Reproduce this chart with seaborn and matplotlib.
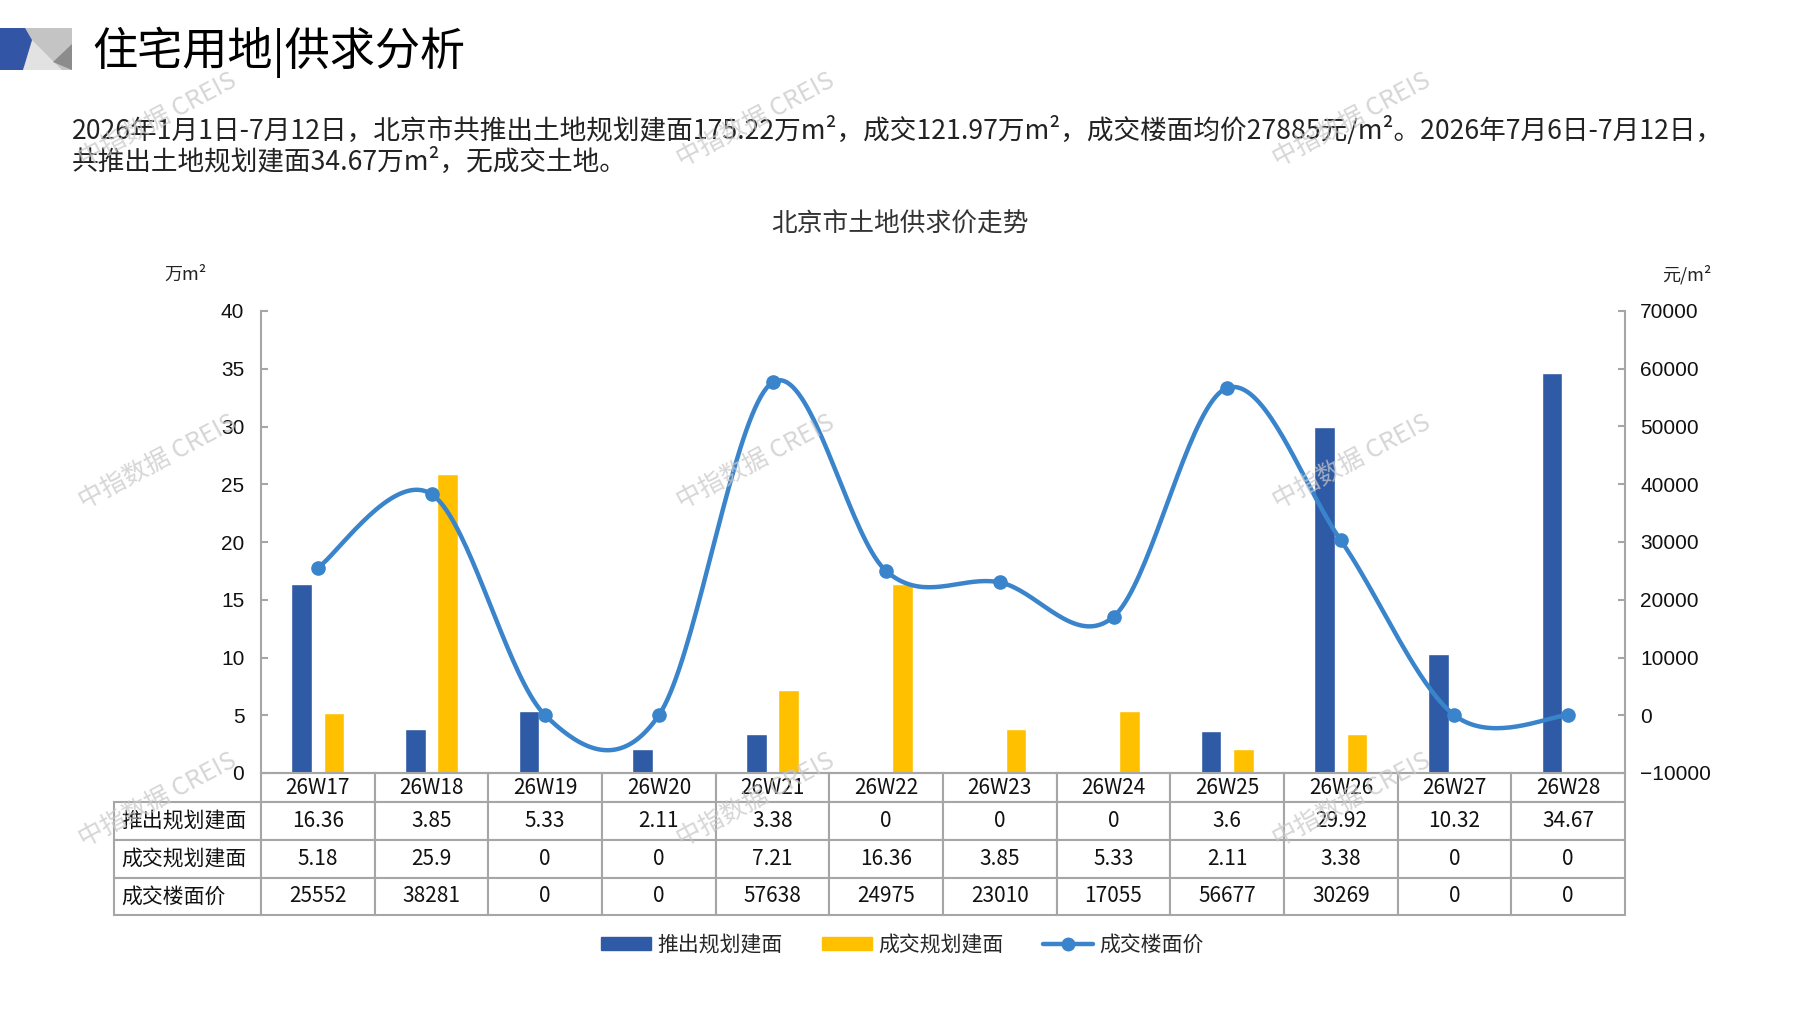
import numpy as np
import pandas as pd
import seaborn as sns
import matplotlib.pyplot as plt
from matplotlib.patches import Polygon, Rectangle
from matplotlib.table import Table

weeks = ['26W17', '26W18', '26W19', '26W20', '26W21', '26W22',
         '26W23', '26W24', '26W25', '26W26', '26W27', '26W28']
supply = [16.36, 3.85, 5.33, 2.11, 3.38, 0, 0, 0, 3.6, 29.92, 10.32, 34.67]
deal = [5.18, 25.9, 0, 0, 7.21, 16.36, 3.85, 5.33, 2.11, 3.38, 0, 0]
price = [25552, 38281, 0, 0, 57638, 24975, 23010, 17055, 56677, 30269, 0, 0]
supply_txt = ['16.36', '3.85', '5.33', '2.11', '3.38', '0', '0', '0', '3.6', '29.92', '10.32', '34.67']
deal_txt = ['5.18', '25.9', '0', '0', '7.21', '16.36', '3.85', '5.33', '2.11', '3.38', '0', '0']
price_txt = [str(v) for v in price]
series = ['推出规划建面', '成交规划建面', '成交楼面价']

BLUE = '#2E5AA6'
YELLOW = '#FFC000'
LINE = '#3A84CC'
GREY = '#A6A6A6'

sns.set_style('white')
plt.rcParams['font.family'] = ['Noto Sans CJK SC', 'DejaVu Sans']

W, H = 1797, 1010
fig = plt.figure(figsize=(W / 100, H / 100), dpi=100)


def fx(px):
    return px / W


def fy(py):
    return 1 - py / H


# header logo
logo = [
    (Rectangle((fx(24), fy(70)), fx(48), 42 / H), '#C4C4C4'),
    (Polygon([(fx(32), fy(40)), (fx(23), fy(70)), (fx(62), fy(70))], closed=True), '#E2E2E2'),
    (Polygon([(fx(72), fy(44)), (fx(72), fy(70)), (fx(53), fy(62))], closed=True), '#8C8C8C'),
    (Polygon([(0, fy(28)), (fx(25), fy(28)), (fx(32), fy(40)), (fx(23), fy(70)), (0, fy(70))], closed=True), '#3355A5'),
]
for p, c in logo:
    p.set_facecolor(c)
    p.set_edgecolor('none')
    p.set_transform(fig.transFigure)
    fig.patches.append(p)

fig.text(fx(92), fy(52), '住宅用地|供求分析', fontsize=32.5, va='center', ha='left', color='black')
fig.text(fx(72), fy(130),
         '2026年1月1日-7月12日，北京市共推出土地规划建面175.22万m²，成交121.97万m²，'
         '成交楼面均价27885元/m²。2026年7月6日-7月12日，',
         fontsize=19.2, va='center', ha='left', color='#222222')
fig.text(fx(72), fy(162), '共推出土地规划建面34.67万m²，无成交土地。',
         fontsize=19.2, va='center', ha='left', color='#222222')
fig.text(fx(900), fy(225), '北京市土地供求价走势', fontsize=18.5, ha='center', va='center', color='#333333')
fig.text(fx(164), fy(275), '万m²', fontsize=13, ha='left', va='center', color='#222222')
fig.text(fx(1662), fy(275), '元/m²', fontsize=13, ha='left', va='center', color='#222222')

ax = fig.add_axes([fx(261), fy(773), 1364 / W, 462 / H])

df = pd.DataFrame({
    'week': weeks * 2,
    'series': [series[0]] * len(weeks) + [series[1]] * len(weeks),
    'value': supply + deal,
})
sns.barplot(data=df, x='week', y='value', hue='series', palette=[BLUE, YELLOW],
            width=0.57, gap=0.37, saturation=1, legend=False, ax=ax)
ax.set_xlim(-0.5, len(weeks) - 0.5)
ax.set_ylim(0, 40)
ax.set_yticks(np.arange(0, 41, 5))
ax.set_xlabel('')
ax.set_ylabel('')
ax.set_xticks([])
ax.tick_params(axis='y', direction='in', length=5, width=1.5, color=GREY,
               labelsize=15, pad=12, labelcolor='#111111')
for lab in ax.get_yticklabels():
    lab.set_family(['Liberation Sans', 'DejaVu Sans'])
for s in ['top', 'right']:
    ax.spines[s].set_visible(False)
for s in ['left', 'bottom']:
    ax.spines[s].set_color(GREY)
    ax.spines[s].set_linewidth(1.5)

# smoothed price line (Excel-like bezier smoothing through the points)
xs_pts = np.arange(len(price), dtype=float)
ys_pts = np.array(price, dtype=float)
cx, cy = [], []
t = np.linspace(0, 1, 40)
for i in range(len(price) - 1):
    i0 = max(i - 1, 0)
    i3 = min(i + 2, len(price) - 1)
    p0x, p1x, p2x, p3x = xs_pts[i], xs_pts[i] + (xs_pts[i + 1] - xs_pts[i0]) / 6, \
        xs_pts[i + 1] - (xs_pts[i3] - xs_pts[i]) / 6, xs_pts[i + 1]
    p0y, p1y, p2y, p3y = ys_pts[i], ys_pts[i] + (ys_pts[i + 1] - ys_pts[i0]) / 6, \
        ys_pts[i + 1] - (ys_pts[i3] - ys_pts[i]) / 6, ys_pts[i + 1]
    b = [(1 - t) ** 3, 3 * (1 - t) ** 2 * t, 3 * (1 - t) * t ** 2, t ** 3]
    cx.extend(b[0] * p0x + b[1] * p1x + b[2] * p2x + b[3] * p3x)
    cy.extend(b[0] * p0y + b[1] * p1y + b[2] * p2y + b[3] * p3y)

ax2 = ax.twinx()
sns.lineplot(x=cx, y=cy, sort=False, estimator=None, color=LINE, linewidth=3.2,
             ax=ax2, legend=False)
ax2.plot(xs_pts, ys_pts, 'o', color=LINE, markersize=9.5)
ax2.set_ylim(-10000, 70000)
ax2.set_yticks(np.arange(-10000, 70001, 10000))
ax2.set_xlim(-0.5, len(weeks) - 0.5)
ax2.tick_params(axis='y', direction='in', length=5, width=1.5, color=GREY,
                labelsize=15, pad=11, labelcolor='#111111')
for lab in ax2.get_yticklabels():
    lab.set_family(['Liberation Sans', 'DejaVu Sans'])
for s in ['top', 'left', 'bottom']:
    ax2.spines[s].set_visible(False)
ax2.spines['right'].set_color(GREY)
ax2.spines['right'].set_linewidth(1.5)

# data table under the chart
tab = Table(ax, bbox=[-147 / 1364, -141.5 / 462, 1511 / 1364, 141.5 / 462])
label_w, col_w = 147, 1364 / len(weeks)
rows = [(series[0], supply_txt), (series[1], deal_txt), (series[2], price_txt)]
heights = [29, 38, 38, 36.5]
c0 = tab.add_cell(0, 0, label_w, heights[0], text='')
c0.visible_edges = ''
for j, w in enumerate(weeks):
    tab.add_cell(0, j + 1, col_w, heights[0], text=w, loc='center')
for i, (name, vals) in enumerate(rows):
    c = tab.add_cell(i + 1, 0, label_w, heights[i + 1], text=name, loc='left')
    c.PAD = 0.05
    for j, v in enumerate(vals):
        tab.add_cell(i + 1, j + 1, col_w, heights[i + 1], text=v, loc='center')
tab.auto_set_font_size(False)
tab.set_fontsize(15)
for cell in tab.get_celld().values():
    cell.set_edgecolor(GREY)
    cell.set_linewidth(1.5)
    cell.get_text().set_color('#111111')
tab.set_clip_on(False)
ax.add_table(tab)

# legend
handles = [Rectangle((0, 0), 1, 1, color=BLUE), Rectangle((0, 0), 1, 1, color=YELLOW),
           plt.Line2D([], [], color=LINE, linewidth=3.2, marker='o', markersize=9)]
fig.legend(handles, series, loc='center', bbox_to_anchor=(0.502, fy(945)), ncol=3,
           frameon=False, fontsize=15, handlelength=2.4, handletextpad=0.3,
           columnspacing=1.9, handleheight=0.6)

# watermarks
for wx in [158, 756, 1352]:
    for wy in [120, 462, 800]:
        fig.text(fx(wx), fy(wy), '中指数据 CREIS', fontsize=18, rotation=28,
                 ha='center', va='center', color='#C8C8C8', alpha=0.75, zorder=10)

fig.savefig('out.png', dpi=100)
